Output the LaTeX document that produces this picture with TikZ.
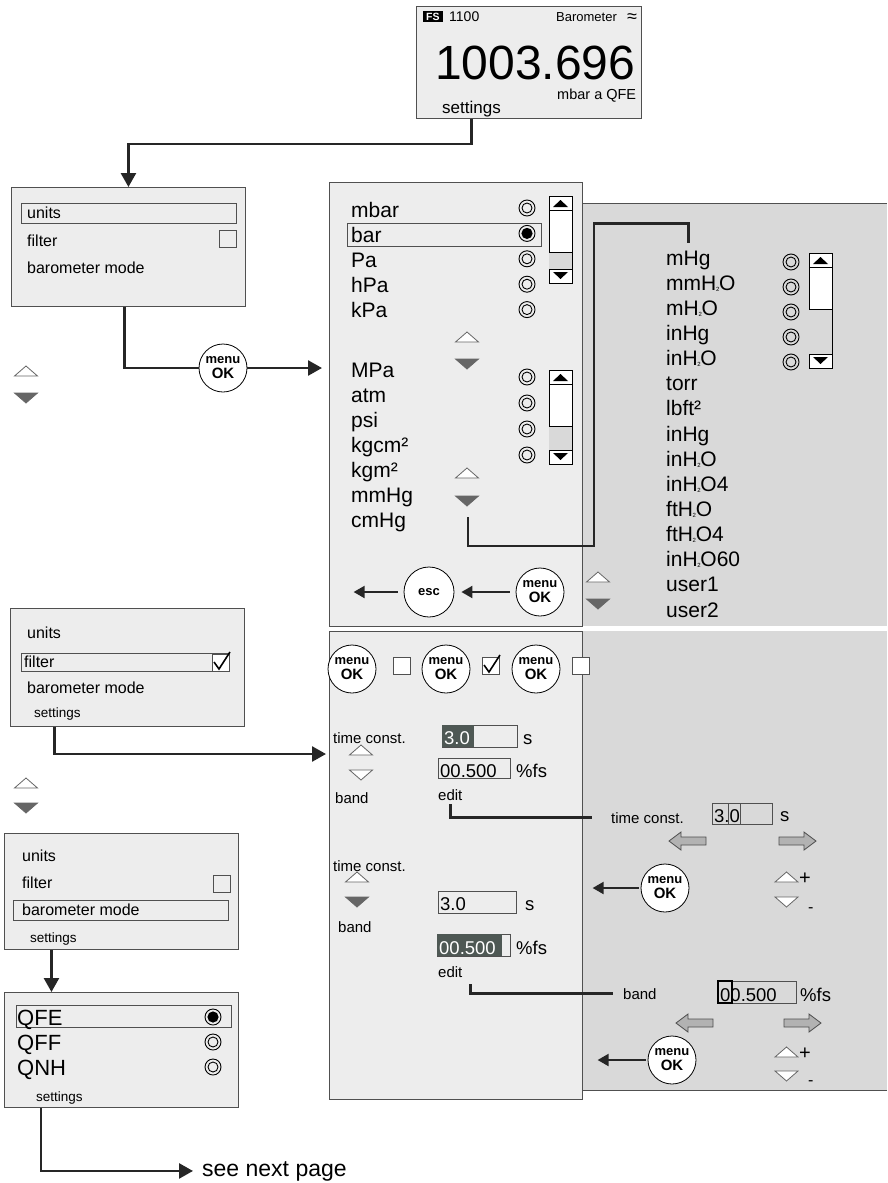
\documentclass[tikz,border=0pt]{standalone}
\usepackage{fontspec}
\setmainfont{Liberation Sans}
\usetikzlibrary{arrows.meta,positioning}

\definecolor{panel}{RGB}{237,237,237}
\definecolor{side}{RGB}{217,217,217}
\definecolor{field}{RGB}{78,88,84}
\definecolor{frame}{RGB}{80,80,80}

\newcommand{\fsz}[1]{\fontsize{#1}{#1}\selectfont}
\newcommand{\Hsub}{H\kern-0.3pt\raisebox{-1pt}{\fsz{6}2}\kern-0.3pt O}
\newcommand{\radiobtn}[2]{\draw[line width=0.9pt] (#1,#2) circle[radius=8pt] (#1,#2) circle[radius=5pt];}
\newcommand{\radioon}[2]{\draw[line width=0.9pt] (#1,#2) circle[radius=8pt]; \fill (#1,#2) circle[radius=5.6pt];}
\newcommand{\uptri}[2]{\draw[tri] (#1-11.5,#2+5) -- (#1,#2-5) -- (#1+11.5,#2+5) -- cycle;}
\newcommand{\dntri}[3][black!60]{\draw[tri,fill=#1] (#2-11.5,#3-5) -- (#2,#3+5) -- (#2+11.5,#3-5) -- cycle;}
\newcommand{\cbox}[3][panel]{\draw[fieldbox,fill=#1] (#2,#3) rectangle ++(17,17);}
\newcommand{\chk}[2]{\draw[line width=1.6pt] (#1+2,#2+8) -- (#1+7,#2+15) -- (#1+18,#2-2);}
\newcommand{\scrollbox}[3]{% x left, top, bottom
  \draw[line width=0.8pt,fill=white] (#1,#2) rectangle (#1+23,#3);
  \fill[black!15] (#1+0.4,#2+56) rectangle (#1+22.6,#3-14);
  \draw[line width=0.8pt] (#1,#2+14) -- +(23,0) (#1,#2+56) -- +(23,0) (#1,#3-14) -- +(23,0);
  \fill (#1+4,#2+11) -- (#1+11.5,#2+4) -- (#1+19,#2+11) -- cycle;
  \fill (#1+4,#3-11) -- (#1+11.5,#3-4) -- (#1+19,#3-11) -- cycle;}
\newcommand{\harrowl}[2]{\draw[harrow] (#1,#2) -- ++(12,-9) -- ++(0,5) -- ++(25,0) -- ++(0,8) -- ++(-25,0) -- ++(0,5) -- cycle;}
\newcommand{\harrowr}[2]{\draw[harrow] (#1,#2) -- ++(-12,-9) -- ++(0,5) -- ++(-25,0) -- ++(0,8) -- ++(25,0) -- ++(0,5) -- cycle;}

\begin{document}
\begin{tikzpicture}[x=1pt,y=-1pt,
  screen/.style={draw=frame,fill=panel,line width=0.9pt,inner sep=0pt,anchor=north west},
  hilite/.style={draw=frame,line width=0.9pt},
  lbl/.style={inner sep=0pt,anchor=base west,font=\fsz{16}},
  unit/.style={lbl,font=\fsz{21}},
  note/.style={lbl,font=\fsz{15}},
  val/.style={lbl,font=\fsz{18.5}},
  conn/.style={line width=2.6pt,draw=black!85},
  tip/.style={-{Triangle[length=14pt,width=15pt]}},
  tipsm/.style={-{Triangle[length=11pt,width=12pt]}},
  okbtn/.style={circle,draw,fill=white,line width=0.8pt,minimum size=48pt,inner sep=0pt,align=center,font=\bfseries\fontsize{13}{15}\selectfont},
  tri/.style={draw=black!60,fill=white,line width=0.8pt},
  harrow/.style={draw=black!70,fill=black!30,line width=0.8pt},
  fieldbox/.style={draw=frame,line width=0.8pt}
]
\useasboundingbox (0,0) rectangle (887,1183);

% gray side panels
\fill[side] (582,203) rectangle (887,626);
\draw[frame,line width=0.9pt] (582,203) -- (887,203);
\fill[side] (582,631) rectangle (887,1090);
\draw[frame,line width=0.9pt] (582,1090) -- (887,1090);

% middle panels
\node[screen,minimum width=253pt,minimum height=444pt] (upA) at (329,182) {};
\node[screen,minimum width=253pt,minimum height=468pt] (lowA) at (329,631) {};

% display
\node[screen,minimum width=225pt,minimum height=112pt] (disp) at (416,6) {};
\node[fill=black,text=white,font=\bfseries\fsz{10.5},inner xsep=3pt,inner ysep=1.5pt,anchor=west] (fsbox) at (423,16.5) {FS};
\node[lbl,font=\fsz{14}] (model) at (449,21) {1100};
\node[lbl,font=\fsz{13}] (mode) at (556,21) {Barometer};
\node[lbl,font=\fsz{18}] (approx) at (627,22) {≈};
\node[lbl,font=\fsz{48}] (reading) at (435,79) {1003.696};
\node[lbl,font=\fsz{14.5}] (unitq) at (557,99) {mbar a QFE};
\node[lbl,font=\fsz{17}] (set0) at (442,113) {settings};

% menu: units
\node[screen,minimum width=234pt,minimum height=119pt] (menu1) at (11,187) {};
\draw[hilite] (21,203) rectangle (236,223);
\node[lbl] (u1) at (27,218) {units};
\node[lbl] (f1) at (27,246) {filter};
\cbox{219}{230}
\node[lbl] (b1) at (27,273) {barometer mode};
\uptri{26}{371}
\dntri{26}{398}

\draw[conn,tip] (disp.south -| set0) -- ++(0,25) -| (menu1.north);
\node[okbtn] (ok1) at (223,368) {menu\\{\fsz{15}OK}};
\draw[conn] ([xshift=-4pt]menu1.south) |- (ok1.west);
\draw[conn,tip,shorten >=7pt] (ok1.east) -- (ok1.east -| upA.west);

% unit list, page 1
\draw[hilite] (347,223) rectangle (541,246);
\foreach \u [count=\i from 0] in {mbar,bar,Pa,hPa,kPa}
  \node[unit] (ua\i) at (351,217+25*\i) {\u};
\foreach \i in {0,2,3,4} {\radiobtn{527}{208+25.4*\i}}
\radioon{527}{233.4}
\scrollbox{549}{196}{283}
\uptri{467}{337}
\dntri{467}{364}

% unit list, page 2
\foreach \u [count=\i from 0] in {MPa,atm,psi,kgcm²,kgm²,mmHg,cmHg}
  \node[unit] (ub\i) at (351,377+25*\i) {\u};
\foreach \i in {0,...,3} {\radiobtn{527}{377+26*\i}}
\scrollbox{549}{370}{464}
\uptri{467}{473}
\dntri{467}{501}

% unit list, page 3
\foreach \u [count=\i from 0] in {mHg,mm\Hsub,m\Hsub,inHg,in\Hsub,torr,lbft²,inHg,in\Hsub,in\Hsub4,ft\Hsub,ft\Hsub4,in\Hsub60,user1,user2}
  \node[unit] (uc\i) at (666,265+25.15*\i) {\u};
\foreach \i in {0,...,4} {\radiobtn{791}{262+25*\i}}
\scrollbox{809}{253}{368}

\coordinate (sel2) at (468,517);
\draw[conn] (sel2) -- ++(0,29) -- ++(126,0) |- ([yshift=27pt]uc0.north) -- ([yshift=7pt]uc0.north);

\node[okbtn] (ok2) at (540,592) {menu\\{\fsz{15}OK}};
\node[okbtn,minimum size=50pt] (esc) at (429,592) {esc};
\draw[conn,tipsm,line width=2pt,shorten <=6pt,shorten >=7pt] (ok2) -- (esc);
\draw[conn,tipsm,line width=2pt,shorten <=6pt] (esc.west) -- ++(-50,0);
\uptri{598}{577}
\dntri{598}{604}

% menu: filter
\node[screen,minimum width=234pt,minimum height=118pt] (menu2) at (10,608) {};
\node[lbl] (u2) at (27,638) {units};
\draw[hilite] (21,653) rectangle (229,671);
\node[lbl] (f2) at (24,667) {filter};
\cbox[white]{212}{654}
\chk{212}{654}
\node[lbl] (b2) at (27,693) {barometer mode};
\node[lbl,font=\fsz{13.5}] (set2) at (34,717) {settings};
\uptri{26}{783}
\dntri{26}{808}
\coordinate (in2) at (326,754);
\draw[conn,tip] ([xshift=-3pt]menu2.south -| set2) |- (in2);

% filter on/off
\node[okbtn] (okA) at (352,669) {menu\\{\fsz{15}OK}};
\cbox[white]{393}{657}
\node[okbtn] (okB) at (446,669) {menu\\{\fsz{15}OK}};
\cbox[white]{482}{657}
\chk{482}{657}
\node[okbtn] (okC) at (536,669) {menu\\{\fsz{15}OK}};
\cbox[white]{572}{657}

% time constant edit
\node[note] (tc1) at (333,743) {time const.};
\uptri{361}{750}
\dntri[white]{361}{775}
\node[note] (bd1) at (335,803) {band};
\draw[fieldbox] (442,725) rectangle (517,747);
\fill[field] (442.4,725.4) rectangle (474,746.6);
\node[val,text=white] (v1) at (444,744) {3.0};
\node[val] (s1) at (523,744) {s};
\draw[fieldbox] (438,758) rectangle (510,778);
\node[val] (w1) at (440,777) {00.500};
\node[val] (p1) at (516,777) {\%fs};
\node[note] (ed1) at (438,800) {edit};

\node[note] (tc2) at (611,823) {time const.};
\draw[fieldbox] (712,803) rectangle (772,824);
\draw[fieldbox] (728,803) rectangle (740,824);
\node[val] (v2) at (714,822) {3.0};
\node[val] (s2) at (780,821) {s};
\harrowl{669}{841}
\harrowr{816}{841}
\draw[conn] ([yshift=-4pt]ed1.south) |- ([xshift=-19pt]tc2.west);

\node[okbtn] (ok3) at (665,888) {menu\\{\fsz{15}OK}};
\draw[conn,tipsm,line width=2pt,shorten <=2pt] (ok3.west) -- ++(-48,0);
\uptri{786.5}{877}
\node[lbl,font=\fsz{20}] (plus1) at (799,884) {+};
\dntri[white]{786.5}{902}
\node[lbl,font=\fsz{16}] (minus1) at (808,912) {-};

% band edit
\node[note] (tc3) at (333,871) {time const.};
\uptri{357}{877}
\dntri{357}{902}
\node[note] (bd3) at (338,932) {band};
\draw[fieldbox] (438,891) rectangle (516,913);
\node[val] (v3) at (440,910) {3.0};
\node[val] (s3) at (525,910) {s};
\draw[fieldbox] (437,934) rectangle (510,956);
\fill[field] (437.4,934.4) rectangle (502,955.6);
\node[val,text=white] (w3) at (439,954) {00.500};
\node[val] (p3) at (516,954) {\%fs};
\node[note] (ed2) at (438,977) {edit};

\node[note] (bd4) at (623,999) {band};
\draw[fieldbox] (718,981) rectangle (796,1003);
\draw[line width=1.3pt] (718,981) rectangle (732,1003);
\node[val] (w4) at (720,1001) {00.500};
\node[val] (p4) at (800,1001) {\%fs};
\harrowl{676}{1023}
\harrowr{821}{1023}
\draw[conn] ([xshift=20pt,yshift=-7pt]ed2.south) |- ([xshift=-10pt]bd4.west);

\node[okbtn] (ok4) at (672,1060) {menu\\{\fsz{15}OK}};
\draw[conn,tipsm,line width=2pt,shorten <=2pt] (ok4.west) -- ++(-50,0);
\uptri{786.5}{1052}
\node[lbl,font=\fsz{20}] (plus2) at (799,1059) {+};
\dntri[white]{786.5}{1076}
\node[lbl,font=\fsz{16}] (minus2) at (808,1085) {-};

% menu: barometer mode
\node[screen,minimum width=234pt,minimum height=116pt] (menu3) at (4,833) {};
\node[lbl] (u3) at (22,861) {units};
\node[lbl] (f3) at (22,888) {filter};
\cbox{213}{875}
\draw[hilite] (13,900) rectangle (228,920);
\node[lbl] (b3) at (22,915) {barometer mode};
\node[lbl,font=\fsz{13.5}] (set3) at (30,942) {settings};

\node[screen,minimum width=234pt,minimum height=115pt] (modes) at (4,992) {};
\draw[hilite] (16,1005) rectangle (231,1027);
\node[unit,font=\fsz{22}] (qfe) at (17,1025) {QFE};
\node[unit,font=\fsz{22}] (qff) at (17,1050) {QFF};
\node[unit,font=\fsz{22}] (qnh) at (17,1075) {QNH};
\radioon{213}{1017}
\radiobtn{213}{1042}
\radiobtn{213}{1067}
\node[lbl,font=\fsz{13.5}] (set4) at (36,1101) {settings};
\draw[conn,tip] ([xshift=-2pt]menu3.south -| set3) -- ([xshift=-2pt]modes.north -| set3);

\node[lbl,font=\fsz{23}] (next) at (202,1176) {see next page};
\draw[conn,tip,shorten >=9pt] ([xshift=37pt]modes.south west) |- (next.west);

\end{tikzpicture}
\end{document}
